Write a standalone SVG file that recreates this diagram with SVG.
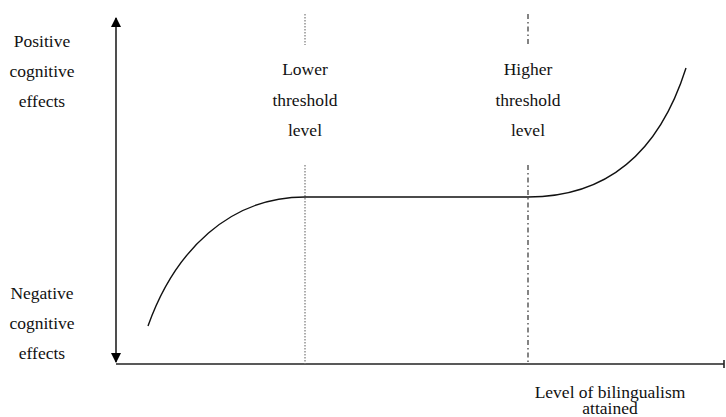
<svg xmlns="http://www.w3.org/2000/svg" width="726" height="417" viewBox="0 0 726 417">
<style>
text{font-family:"Liberation Serif","Times New Roman",serif;font-size:17.5px;fill:#111;text-anchor:middle}
.ax{stroke:#222;stroke-width:1.6;fill:none}
.cv{stroke:#111;stroke-width:1.4;fill:none}
.dot{stroke:#777;stroke-width:1.2;stroke-dasharray:1.5 1.5;fill:none}
.dd{stroke:#333;stroke-width:1.2;stroke-dasharray:5 3 1.5 3;fill:none}
</style>
<defs>
<marker id="ah" markerWidth="10" markerHeight="10" refX="9" refY="5" orient="auto" markerUnits="userSpaceOnUse">
<path d="M0,0 L10,5 L0,10 z" fill="#000"/>
</marker>
</defs>
<g id="connectors">
<line class="ax" x1="116" y1="190" x2="116" y2="18" marker-end="url(#ah)"/>
<line class="ax" x1="116" y1="190" x2="116" y2="362" marker-end="url(#ah)"/>
<line class="ax" x1="116" y1="364" x2="724" y2="364"/>
<line class="ax" x1="724" y1="360" x2="724" y2="368" stroke-width="1"/>
<line class="dot" x1="305" y1="14" x2="305" y2="45"/>
<line class="dot" x1="305" y1="165" x2="305" y2="364"/>
<line class="dd" x1="528" y1="14" x2="528" y2="45"/>
<line class="dd" x1="528" y1="165" x2="528" y2="364"/>
<path class="cv" d="M148,326 C175,250 230,197 305,197 L528,197 C610,197 660,150 686,68"/>
</g>
<g id="y-top">
<text x="42" y="47">Positive</text>
<text x="42" y="77">cognitive</text>
<text x="42" y="107">effects</text>
</g>
<g id="y-bottom">
<text x="42" y="299">Negative</text>
<text x="42" y="329">cognitive</text>
<text x="42" y="359">effects</text>
</g>
<g id="lower">
<text x="305" y="75">Lower</text>
<text x="305" y="106">threshold</text>
<text x="305" y="136">level</text>
</g>
<g id="higher">
<text x="528" y="75">Higher</text>
<text x="528" y="106">threshold</text>
<text x="528" y="136">level</text>
</g>
<g id="x-label">
<text x="610" y="398">Level of bilingualism</text>
<text x="610" y="414">attained</text>
</g>
</svg>
